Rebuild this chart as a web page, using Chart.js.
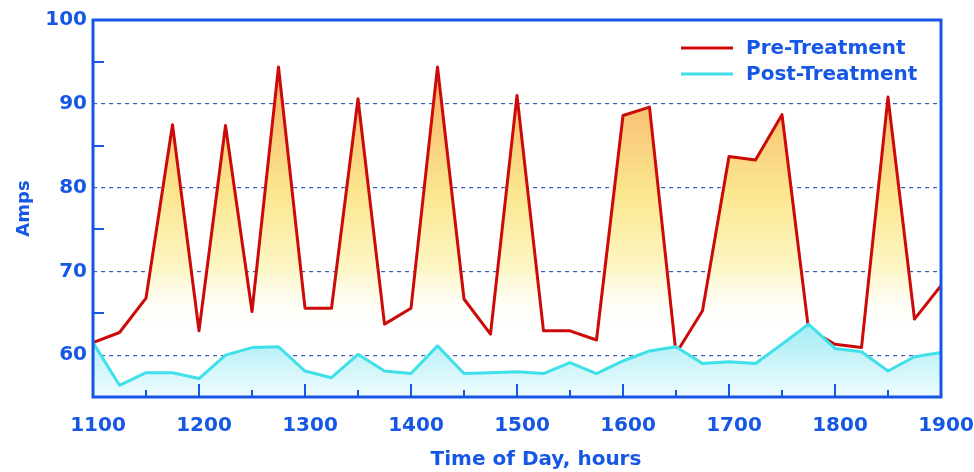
<!DOCTYPE html>
<html>
<head>
<meta charset="utf-8">
<script src="https://cdn.jsdelivr.net/npm/chart.js@4/dist/chart.umd.min.js"></script>
<style>
  body { margin: 0; background: #fff; }
  canvas { display: block; }
</style>
</head>
<body>
<canvas id="chart" width="974" height="472"></canvas>
<script>
// readings every 15 min (25 on the hour*100 axis)
const timeOfDay = [1100, 1125, 1150, 1175, 1200, 1225, 1250, 1275, 1300, 1325, 1350,
  1375, 1400, 1425, 1450, 1475, 1500, 1525, 1550, 1575, 1600, 1625, 1650, 1675, 1700,
  1725, 1750, 1775, 1800, 1825, 1850, 1875, 1900];
const preTreatment = [61.5, 62.7, 66.8, 87.5, 62.9, 87.4, 65.2, 94.4, 65.6, 65.6, 90.6,
  63.7, 65.6, 94.4, 66.7, 62.5, 91.0, 62.9, 62.9, 61.8, 88.6, 89.6, 60.2, 65.3, 83.7,
  83.3, 88.7, 63.1, 61.3, 60.9, 90.8, 64.3, 68.3];
const postTreatment = [61.5, 56.4, 57.9, 57.9, 57.2, 60.0, 60.9, 61.0, 58.1, 57.3, 60.1,
  58.1, 57.8, 61.1, 57.8, 57.9, 58.0, 57.8, 59.1, 57.8, 59.3, 60.5, 61.0, 59.0, 59.2,
  59.0, 61.3, 63.7, 60.8, 60.4, 58.1, 59.8, 60.3];
const seriesNames = ['Pre-Treatment', 'Post-Treatment'];
const ampGrid = [60, 70, 80, 90];
const ampMinorTicks = [65, 75, 85, 95];
const timeMinorTicks = [1150, 1250, 1350, 1450, 1550, 1650, 1750, 1850];
const timeMajorTicks = [1200, 1300, 1400, 1500, 1600, 1700, 1800];
const xTitle = 'Time of Day, hours';
const yTitle = 'Amps';

const BLUE = '#1658e4';
const RED = '#cc0a0a';
const CYAN = '#3fe0ea';
const FONT = 'DejaVu Sans';

function toPoints(vals) {
  return vals.map((v, i) => ({ x: timeOfDay[i], y: v }));
}

function vGradient(chart, from, to, stops) {
  const area = chart.chartArea;
  if (!area) return null;
  const y = chart.scales.y;
  const g = chart.ctx.createLinearGradient(0, y.getPixelForValue(from), 0, y.getPixelForValue(to));
  stops.forEach(s => g.addColorStop(s[0], s[1]));
  return g;
}

// frame, inward tick marks, legend and x title
const overlay = {
  id: 'overlay',
  afterDraw(chart) {
    const { ctx, chartArea: a, scales: { x, y } } = chart;
    ctx.save();
    ctx.strokeStyle = BLUE;

    ctx.lineWidth = 2;
    timeMajorTicks.forEach(t => {
      const px = Math.round(x.getPixelForValue(t));
      ctx.beginPath(); ctx.moveTo(px, a.bottom); ctx.lineTo(px, a.bottom - 13); ctx.stroke();
    });
    timeMinorTicks.forEach(t => {
      const px = Math.round(x.getPixelForValue(t));
      ctx.beginPath(); ctx.moveTo(px, a.bottom); ctx.lineTo(px, a.bottom - 7); ctx.stroke();
    });
    ampMinorTicks.forEach(v => {
      const py = Math.round(y.getPixelForValue(v));
      ctx.beginPath(); ctx.moveTo(a.left, py); ctx.lineTo(a.left + 11, py); ctx.stroke();
    });

    ctx.lineWidth = 3;
    ctx.strokeRect(a.left, a.top, a.right - a.left, a.bottom - a.top);

    // legend
    const colors = [RED, CYAN];
    ctx.font = 'bold 20px "' + FONT + '"';
    ctx.textBaseline = 'middle';
    ctx.textAlign = 'left';
    seriesNames.forEach((name, i) => {
      const ly = a.top + 28 + i * 26;
      ctx.strokeStyle = colors[i];
      ctx.lineWidth = 3;
      ctx.beginPath(); ctx.moveTo(a.right - 260, ly); ctx.lineTo(a.right - 208, ly); ctx.stroke();
      ctx.fillStyle = BLUE;
      ctx.fillText(name, a.right - 195, ly + 1);
    });

    ctx.textAlign = 'center';
    ctx.fillText(xTitle, (a.left + a.right) / 2 + 19, 460);
    ctx.restore();
  }
};

new Chart(document.getElementById('chart'), {
  type: 'line',
  data: {
    datasets: [
      {
        label: seriesNames[0],
        data: toPoints(preTreatment),
        borderColor: RED,
        borderWidth: 3,
        borderJoinStyle: 'round',
        fill: 'start',
        order: 1,
        backgroundColor: c => vGradient(c.chart, 96, 63, [
          [0, '#f5a45e'], [0.25, '#f8c878'], [0.5, '#fbe68e'], [0.78, '#fdf6c6'], [1, 'rgba(255,255,255,0)']
        ])
      },
      {
        label: seriesNames[1],
        data: toPoints(postTreatment),
        borderColor: CYAN,
        borderWidth: 3,
        borderJoinStyle: 'round',
        fill: 'start',
        order: 0,
        backgroundColor: c => vGradient(c.chart, 63, 55, [
          [0, '#a8edf5'], [1, '#f0fcfe']
        ])
      }
    ]
  },
  options: {
    responsive: false,
    animation: false,
    layout: { padding: { top: 20, right: 33, left: 0, bottom: 0 } },
    elements: { point: { radius: 0 }, line: { tension: 0 } },
    plugins: { legend: { display: false }, tooltip: { enabled: false } },
    scales: {
      x: {
        type: 'linear',
        min: 1100,
        max: 1900,
        grid: { display: false },
        border: { display: false },
        ticks: {
          stepSize: 100,
          autoSkip: false,
          maxRotation: 0,
          padding: 9,
          labelOffset: 5,
          color: BLUE,
          font: { family: FONT, weight: 'bold', size: 20 },
          callback: v => String(v)
        },
        afterFit(s) { s.height = 75; s.paddingLeft = 0; s.paddingRight = 0; }
      },
      y: {
        min: 55,
        max: 100,
        z: 1,
        border: { display: false, dash: [4, 4] },
        grid: {
          drawTicks: false,
          lineWidth: 1.2,
          color: c => ampGrid.includes(c.tick.value) ? '#3a60bc' : 'rgba(0,0,0,0)'
        },
        ticks: {
          stepSize: 5,
          autoSkip: false,
          padding: 6,
          color: BLUE,
          font: { family: FONT, weight: 'bold', size: 20 },
          callback: v => v % 10 === 0 ? String(v) : ''
        },
        title: {
          display: true,
          text: yTitle,
          color: BLUE,
          font: { family: FONT, weight: 'bold', size: 18 },
          padding: { top: 14, bottom: 0 }
        },
        afterFit(s) { s.width = 93; s.paddingTop = 0; s.paddingBottom = 0; }
      }
    }
  },
  plugins: [overlay]
});
</script>
</body>
</html>
